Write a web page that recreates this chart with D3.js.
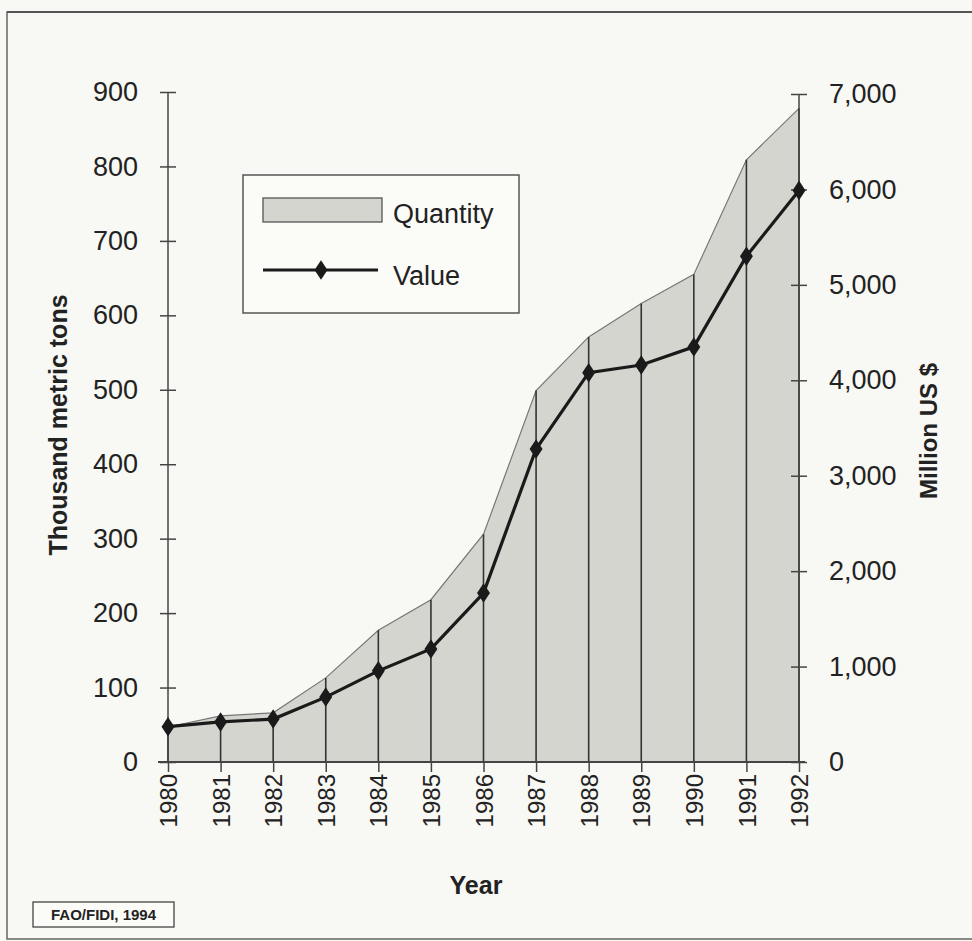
<!DOCTYPE html>
<html>
<head>
<meta charset="utf-8">
<script src="https://cdn.jsdelivr.net/npm/d3@7"></script>
<style>
  html, body { margin: 0; padding: 0; background: #f8f8f4; }
  svg { display: block; }
  text { font-family: "Liberation Sans", Arial, sans-serif; fill: #222; }
</style>
</head>
<body>
<svg id="chart" width="972" height="941"></svg>
<script>
// ---- data ----
const years = [1980, 1981, 1982, 1983, 1984, 1985, 1986, 1987, 1988, 1989, 1990, 1991, 1992];
const quantity = [47, 62, 66, 113, 177, 218, 306, 499, 571, 616, 655, 809, 878];   // thousand metric tons
const value = [370, 420, 450, 680, 955, 1185, 1770, 3280, 4080, 4160, 4350, 5300, 5990]; // million US $
const leftTicks = [0, 100, 200, 300, 400, 500, 600, 700, 800, 900];
const rightTicks = [0, 1000, 2000, 3000, 4000, 5000, 6000, 7000];
const seriesNames = ["Quantity", "Value"];
const leftTitle = "Thousand metric tons";
const rightTitle = "Million US $";
const xTitle = "Year";
const sourceNote = "FAO/FIDI, 1994";

const data = years.map((y, i) => ({ year: y, q: quantity[i], v: value[i] }));

const svg = d3.select("#chart");

// outer frame
svg.append("rect").attr("x", 7).attr("y", 12).attr("width", 980).attr("height", 927)
  .attr("fill", "none").attr("stroke", "#666").attr("stroke-width", 1.5);
svg.append("line").attr("x1", 7).attr("x2", 972).attr("y1", 12).attr("y2", 12)
  .attr("stroke", "#555").attr("stroke-width", 2);

const x = d3.scalePoint().domain(years).range([168, 799]);
const yQ = d3.scaleLinear().domain([0, 900]).range([762, 92]);
const yV = d3.scaleLinear().domain([0, 7000]).range([762, 94]);

// area (quantity)
const area = d3.area().x(d => x(d.year)).y0(yQ(0)).y1(d => yQ(d.q));
svg.append("path").datum(data).attr("d", area).attr("fill", "#d5d5d0");
svg.append("path").datum(data)
  .attr("d", d3.line().x(d => x(d.year)).y(d => yQ(d.q)))
  .attr("fill", "none").attr("stroke", "#777").attr("stroke-width", 1.2);

// drop lines
svg.append("g").selectAll("line").data(data).join("line")
  .attr("x1", d => x(d.year)).attr("x2", d => x(d.year))
  .attr("y1", yQ(0)).attr("y2", d => yQ(d.q))
  .attr("stroke", "#333").attr("stroke-width", 1.6);

// left axis
const gL = svg.append("g").attr("transform", `translate(${x(years[0])},0)`)
  .call(d3.axisLeft(yQ).tickValues(leftTicks).tickSize(8).tickPadding(22).tickFormat(d3.format("d")));
gL.select(".domain").attr("stroke", "#444").attr("stroke-width", 1.5).attr("d", `M0,${yQ(900)}V${yQ(0)}`);
gL.selectAll(".tick line").attr("x1", 8).attr("stroke", "#444").attr("stroke-width", 1.5);
gL.selectAll(".tick text").attr("font-size", 27).attr("font-family", "Liberation Sans, Arial, sans-serif").attr("fill", "#222");

// right axis
const gR = svg.append("g").attr("transform", `translate(${x(years[years.length - 1])},0)`)
  .call(d3.axisRight(yV).tickValues(rightTicks).tickSize(8).tickPadding(22).tickFormat(d3.format(",")));
gR.select(".domain").attr("stroke", "#444").attr("stroke-width", 1.5).attr("d", `M0,${yV(7000)}V${yV(0)}`);
gR.selectAll(".tick line").attr("x1", -8).attr("stroke", "#444").attr("stroke-width", 1.5);
gR.selectAll(".tick text").attr("font-size", 27).attr("font-family", "Liberation Sans, Arial, sans-serif").attr("fill", "#222");

// bottom axis
const gB = svg.append("g").attr("transform", `translate(0,${yQ(0)})`)
  .call(d3.axisBottom(x).tickSize(10).tickPadding(0));
gB.select(".domain").attr("stroke", "#444").attr("stroke-width", 1.8).attr("d", `M${x(years[0]) - 10},0H${x(years[years.length - 1]) + 6}`);
gB.selectAll(".tick line").attr("stroke", "#444").attr("stroke-width", 1.5);
gB.selectAll(".tick text")
  .attr("font-size", 24).attr("font-family", "Liberation Sans, Arial, sans-serif").attr("fill", "#222")
  .attr("text-anchor", "end").attr("transform", "rotate(-90)")
  .attr("x", -12).attr("y", 0).attr("dy", "0.36em");

// value line
svg.append("path").datum(data)
  .attr("d", d3.line().x(d => x(d.year)).y(d => yV(d.v)))
  .attr("fill", "none").attr("stroke", "#1a1a1a").attr("stroke-width", 3.2);
svg.append("g").selectAll("path").data(data).join("path")
  .attr("d", d3.symbol().type(d3.symbolDiamond).size(110))
  .attr("transform", d => `translate(${x(d.year)},${yV(d.v)}) scale(1.15,1)`)
  .attr("fill", "#1a1a1a");

// axis titles
svg.append("text").attr("transform", "translate(67,425) rotate(-90)")
  .attr("text-anchor", "middle").attr("font-size", 25).attr("font-weight", "bold").text(leftTitle);
svg.append("text").attr("transform", "translate(937,431) rotate(-90)")
  .attr("text-anchor", "middle").attr("font-size", 24).attr("font-weight", "bold").text(rightTitle);
svg.append("text").attr("x", 476).attr("y", 894)
  .attr("text-anchor", "middle").attr("font-size", 25).attr("font-weight", "bold")
  .attr("font-family", "Liberation Sans Narrow, Liberation Sans, Arial, sans-serif").text(xTitle);

// legend
const lg = svg.append("g");
lg.append("rect").attr("x", 243).attr("y", 175).attr("width", 276).attr("height", 138)
  .attr("fill", "#fbfbf8").attr("stroke", "#555").attr("stroke-width", 1.5);
lg.append("rect").attr("x", 263).attr("y", 198).attr("width", 119).attr("height", 24)
  .attr("fill", "#d5d5d0").attr("stroke", "#555").attr("stroke-width", 1.3);
lg.append("text").attr("x", 393).attr("y", 223).attr("font-size", 27).text(seriesNames[0]);
lg.append("line").attr("x1", 263).attr("x2", 378).attr("y1", 270).attr("y2", 270)
  .attr("stroke", "#1a1a1a").attr("stroke-width", 3);
lg.append("path").attr("d", d3.symbol().type(d3.symbolDiamond).size(110)())
  .attr("transform", "translate(321,270) scale(1.15,1)").attr("fill", "#1a1a1a");
lg.append("text").attr("x", 393).attr("y", 285).attr("font-size", 27).text(seriesNames[1]);

// source note
svg.append("rect").attr("x", 33).attr("y", 902).attr("width", 141).attr("height", 25)
  .attr("fill", "#fbfbf8").attr("stroke", "#444").attr("stroke-width", 1.3);
svg.append("text").attr("x", 103.5).attr("y", 920).attr("text-anchor", "middle")
  .attr("font-size", 15).attr("font-weight", "bold").text(sourceNote);
</script>
</body>
</html>
